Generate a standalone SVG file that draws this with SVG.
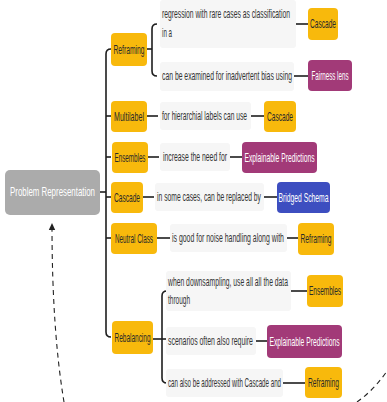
<svg xmlns="http://www.w3.org/2000/svg" width="387" height="402" viewBox="0 0 387 402">
<style>
text{font-family:"Liberation Sans",Arial,sans-serif;font-size:12px;dominant-baseline:central;}
.y rect{fill:#f8b90c;}
.m rect{fill:#a23a78;}
.b rect{fill:#3d4ec0;}
.g rect{fill:#ababab;}
.y text{fill:#2a2a2a;text-anchor:middle;}
.m text,.b text,.g text{fill:#fff;text-anchor:middle;}
.t rect{fill:#f6f6f6;}
.t text{fill:#333;}
.c path{fill:none;stroke:#1e1e1e;stroke-width:1.6;}
.d path{fill:none;stroke:#222;stroke-width:1.1;stroke-dasharray:5 4;}
</style>
<defs>
<marker id="ah" markerWidth="8" markerHeight="8" refX="4" refY="4" orient="auto" markerUnits="userSpaceOnUse">
<path d="M0,0.8 L7,4 L0,7.2 Z" fill="#222"/>
</marker>
</defs>
<rect width="387" height="402" fill="#fff"/>

<g class="d">
<path d="M64 402 Q52 330 52 226" marker-end="url(#ah)"/>
<path d="M357 402 Q374 390 387 371"/>
</g>

<g class="c">
<path d="M100 192 L106 192"/>
<path d="M111 49 Q106 49 106 54 L106 332 Q106 337 111 337"/>
<path d="M106 116 L111 116"/>
<path d="M106 157 L111 157"/>
<path d="M106 197 L111 197"/>
<path d="M106 238 L111 238"/>
<path d="M147 49 L152 49"/>
<path d="M157 24 Q152 24 152 29 L152 71 Q152 76 157 76"/>
<path d="M295 24 L308 24"/>
<path d="M294 76 L308 76"/>
<path d="M147 116 L158 116"/>
<path d="M251 116 L264 116"/>
<path d="M148 157 L159 157"/>
<path d="M230 157 L242 157"/>
<path d="M143 197 L154 197"/>
<path d="M264 197 L277 197"/>
<path d="M157 238 L170 238"/>
<path d="M287 238 L298 238"/>
<path d="M153 339 L162 339"/>
<path d="M167 291 Q162 291 162 296 L162 378 Q162 383 167 383"/>
<path d="M162 339 L167 339"/>
<path d="M291 291 L307 291"/>
<path d="M256 341 L267 341"/>
<path d="M283 383 L305 383"/>
</g>

<g id="problem-representation" class="g"><rect x="5" y="170" width="95" height="45" rx="5"/><text transform="translate(52.5 192) scale(0.55 1)" font-size="13" textLength="154.5" lengthAdjust="spacingAndGlyphs">Problem Representation</text></g>

<g id="reframing" class="y"><rect x="111" y="33" width="36" height="33" rx="4"/><text transform="translate(129 49.5) scale(0.55 1)" textLength="56.4" lengthAdjust="spacingAndGlyphs">Reframing</text></g>
<g id="multilabel" class="y"><rect x="111" y="101" width="36" height="31" rx="4"/><text transform="translate(129 116.5) scale(0.55 1)" textLength="54.5" lengthAdjust="spacingAndGlyphs">Multilabel</text></g>
<g id="ensembles" class="y"><rect x="112" y="142" width="36" height="31" rx="4"/><text transform="translate(130 157.5) scale(0.55 1)" textLength="56.4" lengthAdjust="spacingAndGlyphs">Ensembles</text></g>
<g id="cascade" class="y"><rect x="111" y="182" width="32" height="31" rx="4"/><text transform="translate(127 197.5) scale(0.55 1)" textLength="47.3" lengthAdjust="spacingAndGlyphs">Cascade</text></g>
<g id="neutral-class" class="y"><rect x="111" y="223" width="46" height="31" rx="4"/><text transform="translate(134 238.5) scale(0.55 1)" textLength="69.1" lengthAdjust="spacingAndGlyphs">Neutral Class</text></g>
<g id="rebalancing" class="y"><rect x="112" y="321" width="41" height="33" rx="4"/><text transform="translate(132.5 337.5) scale(0.55 1)" textLength="65.5" lengthAdjust="spacingAndGlyphs">Rebalancing</text></g>

<g id="t-reframing-1" class="t"><rect x="160" y="0" width="136" height="48" rx="3"/><text transform="translate(162 14) scale(0.55 1)" textLength="232.7" lengthAdjust="spacingAndGlyphs">regression with rare cases as classification</text><text transform="translate(162 33) scale(0.55 1)" textLength="18.2" lengthAdjust="spacingAndGlyphs">in a</text></g>
<g id="t-reframing-2" class="t"><rect x="160" y="62" width="134" height="29" rx="3"/><text transform="translate(162 76) scale(0.55 1)" textLength="236.4" lengthAdjust="spacingAndGlyphs">can be examined for inadvertent bias using</text></g>
<g id="t-multilabel" class="t"><rect x="160" y="102" width="91" height="28" rx="3"/><text transform="translate(162 116) scale(0.55 1)" textLength="154.5" lengthAdjust="spacingAndGlyphs">for hierarchial labels can use</text></g>
<g id="t-ensembles" class="t"><rect x="160" y="143" width="70" height="28" rx="3"/><text transform="translate(163 157) scale(0.55 1)" textLength="116.4" lengthAdjust="spacingAndGlyphs">increase the need for</text></g>
<g id="t-cascade" class="t"><rect x="155" y="183" width="109" height="28" rx="3"/><text transform="translate(157 197) scale(0.55 1)" textLength="189.1" lengthAdjust="spacingAndGlyphs">in some cases, can be replaced by</text></g>
<g id="t-neutral" class="t"><rect x="170" y="224" width="117" height="28" rx="3"/><text transform="translate(172 238) scale(0.55 1)" textLength="203.6" lengthAdjust="spacingAndGlyphs">is good for noise handling along with</text></g>
<g id="t-rebal-1" class="t"><rect x="166" y="271" width="125" height="40" rx="3"/><text transform="translate(168 282) scale(0.55 1)" textLength="218.2" lengthAdjust="spacingAndGlyphs">when downsampling, use all all the data</text><text transform="translate(168 300) scale(0.55 1)" textLength="40" lengthAdjust="spacingAndGlyphs">through</text></g>
<g id="t-rebal-2" class="t"><rect x="166" y="327" width="90" height="28" rx="3"/><text transform="translate(168 341) scale(0.55 1)" textLength="154.5" lengthAdjust="spacingAndGlyphs">scenarios often also require</text></g>
<g id="t-rebal-3" class="t"><rect x="166" y="369" width="117" height="28" rx="3"/><text transform="translate(168 383) scale(0.55 1)" textLength="205.5" lengthAdjust="spacingAndGlyphs">can also be addressed with Cascade and</text></g>

<g id="cascade-1" class="y"><rect x="308" y="8" width="30" height="32" rx="4"/><text transform="translate(323 24) scale(0.55 1)" textLength="47.3" lengthAdjust="spacingAndGlyphs">Cascade</text></g>
<g id="fairness-lens" class="m"><rect x="308" y="60" width="44" height="31" rx="4"/><text transform="translate(330 76) scale(0.55 1)" textLength="67.3" lengthAdjust="spacingAndGlyphs">Fairness lens</text></g>
<g id="cascade-2" class="y"><rect x="264" y="101" width="32" height="31" rx="4"/><text transform="translate(280 116.5) scale(0.55 1)" textLength="47.3" lengthAdjust="spacingAndGlyphs">Cascade</text></g>
<g id="explainable-1" class="m"><rect x="242" y="142" width="75" height="31" rx="4"/><text transform="translate(279.5 157.5) scale(0.55 1)" textLength="127.3" lengthAdjust="spacingAndGlyphs">Explainable Predictions</text></g>
<g id="bridged-schema" class="b"><rect x="277" y="182" width="53" height="31" rx="4"/><text transform="translate(303.5 197.5) scale(0.55 1)" textLength="90.9" lengthAdjust="spacingAndGlyphs">Bridged Schema</text></g>
<g id="reframing-2" class="y"><rect x="298" y="223" width="36" height="32" rx="4"/><text transform="translate(316 239) scale(0.55 1)" textLength="56.4" lengthAdjust="spacingAndGlyphs">Reframing</text></g>
<g id="ensembles-2" class="y"><rect x="307" y="275" width="36" height="32" rx="4"/><text transform="translate(325 291) scale(0.55 1)" textLength="58.2" lengthAdjust="spacingAndGlyphs">Ensembles</text></g>
<g id="explainable-2" class="m"><rect x="267" y="325" width="75" height="33" rx="4"/><text transform="translate(304.5 341.5) scale(0.55 1)" textLength="127.3" lengthAdjust="spacingAndGlyphs">Explainable Predictions</text></g>
<g id="reframing-3" class="y"><rect x="305" y="367" width="37" height="31" rx="4"/><text transform="translate(323.5 382.5) scale(0.55 1)" textLength="56.4" lengthAdjust="spacingAndGlyphs">Reframing</text></g>
</svg>
